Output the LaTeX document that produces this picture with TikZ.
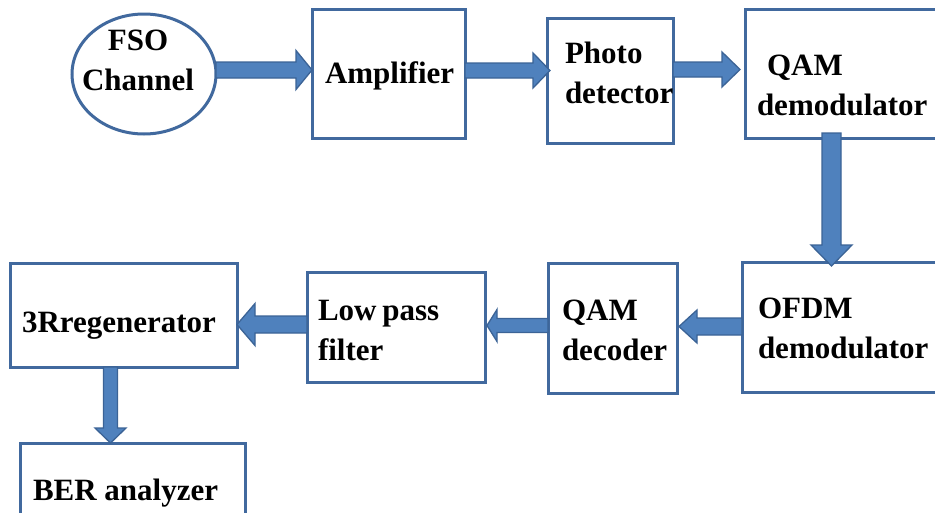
\documentclass[tikz,border=0pt]{standalone}
\usepackage{fontspec}
\setmainfont{Liberation Serif}
\usetikzlibrary{calc,shapes.geometric}
\definecolor{boxblue}{HTML}{41699E}
\definecolor{arrfill}{HTML}{4F81BD}
\definecolor{arrline}{HTML}{3B6396}
\tikzset{
  blockbox/.style={draw=boxblue, line width=3pt, rectangle, inner sep=0pt, outer sep=0pt},
  chan/.style={draw=boxblue, line width=3pt, ellipse, inner sep=0pt, outer sep=0pt},
  lbl/.style={anchor=base west, inner sep=0pt, outer sep=0pt, text=black,
    font=\fontsize{31}{40}\selectfont\bfseries, align=left},
  blockarrow/.style={fill=arrfill, draw=arrline, line width=1.3pt, line join=miter},
}
% #1 start, #2 tip, #3 shaft half width, #4 head half width, #5 head length
\newcommand\blockarr[5]{%
  \path ($(#2)!#5!(#1)$) coordinate (ab);
  \draw[blockarrow] ($(#1)!#3!90:(#2)$) -- ($(ab)!#3!90:(#2)$) -- ($(ab)!#4!90:(#2)$)
    -- (#2) -- ($(ab)!#4!-90:(#2)$) -- ($(ab)!#3!-90:(#2)$) -- ($(#1)!#3!-90:(#2)$) -- cycle;
}
\begin{document}
\begin{tikzpicture}[x=1pt,y=-1pt]
\clip (0,0) rectangle (935,512);
\fill[white] (0,0) rectangle (935,512);
% blocks
\node[chan, minimum width=144pt, minimum height=120pt] (fso) at (144,74) {};
\node[blockbox, minimum width=153pt, minimum height=129pt] (amp) at (388.5,73.5) {};
\node[blockbox, minimum width=126pt, minimum height=125pt] (pd) at (610,80.5) {};
\node[blockbox, minimum width=200pt, minimum height=129pt] (qdm) at (845,73.5) {};
\node[blockbox, minimum width=200pt, minimum height=130pt] (ofdm) at (842,327) {};
\node[blockbox, minimum width=129pt, minimum height=130pt] (qdec) at (612.5,328) {};
\node[blockbox, minimum width=178pt, minimum height=110pt] (lpf) at (396,327) {};
\node[blockbox, minimum width=227pt, minimum height=104pt] (regen) at (123.5,315) {};
\node[blockbox, minimum width=225pt, minimum height=100pt] (ber) at (132.5,493) {};
% labels (multi-line: base = last baseline)
\node[lbl, align=center, anchor=base] (fsot) at (138,90) {FSO\\Channel};
\node[lbl] (ampt) at (325,83) {Amplifier};
\node[lbl] (pdt) at (565,103) {Photo\\detector};
\node[lbl] (qdmt) at (757,115) {\hspace{10pt}QAM\\demodulator};
\node[lbl] (ofdmt) at (758,358) {OFDM\\demodulator};
\node[lbl] (qdect) at (562,360) {QAM\\decoder};
\node[lbl] (lpft) at (318,360) {Low\hspace{-2pt} pass\\filter};
\node[lbl] (regent) at (22,332) {3Rregenerator};
\node[lbl] (bert) at (33,500) {BER analyzer};
% connectors
\coordinate (a1s) at (fso.east |- 0,70);   \coordinate (a1e) at (amp.west |- 0,70);
\blockarr{a1s}{a1e}{8pt}{19.5pt}{16pt}
\coordinate (a2s) at (amp.east |- 0,70.5); \coordinate (a2e) at ([xshift=3pt]pd.west |- 0,70.5);
\blockarr{a2s}{a2e}{7.5pt}{17.5pt}{17pt}
\coordinate (a3s) at (pd.east |- 0,69.5);  \coordinate (a3e) at ([xshift=-5pt]qdm.west |- 0,69.5);
\blockarr{a3s}{a3e}{7.5pt}{17.5pt}{18pt}
\coordinate (a4s) at ([yshift=5pt]qdm.south -| 831.5,0); \coordinate (a4e) at ([yshift=-4pt]ofdm.north -| 831.5,0);
\blockarr{a4s}{a4e}{9.5pt}{20.5pt}{21pt}
\coordinate (a5s) at (ofdm.west |- 0,326.5); \coordinate (a5e) at ([xshift=2pt]qdec.east |- 0,326.5);
\blockarr{a5s}{a5e}{8.5pt}{16.5pt}{18pt}
\coordinate (a6s) at (qdec.west |- 0,325.5); \coordinate (a6e) at ([xshift=2pt]lpf.east |- 0,325.5);
\blockarr{a6s}{a6e}{7pt}{16pt}{10pt}
\coordinate (a7s) at (lpf.west |- 0,324.5); \coordinate (a7e) at (regen.east |- 0,324.5);
\blockarr{a7s}{a7e}{8.5pt}{21pt}{18pt}
\coordinate (a8s) at (regen.south -| 110.5,0); \coordinate (a8e) at (ber.north -| 110.5,0);
\blockarr{a8s}{a8e}{7pt}{15.5pt}{15pt}
\end{tikzpicture}
\end{document}
